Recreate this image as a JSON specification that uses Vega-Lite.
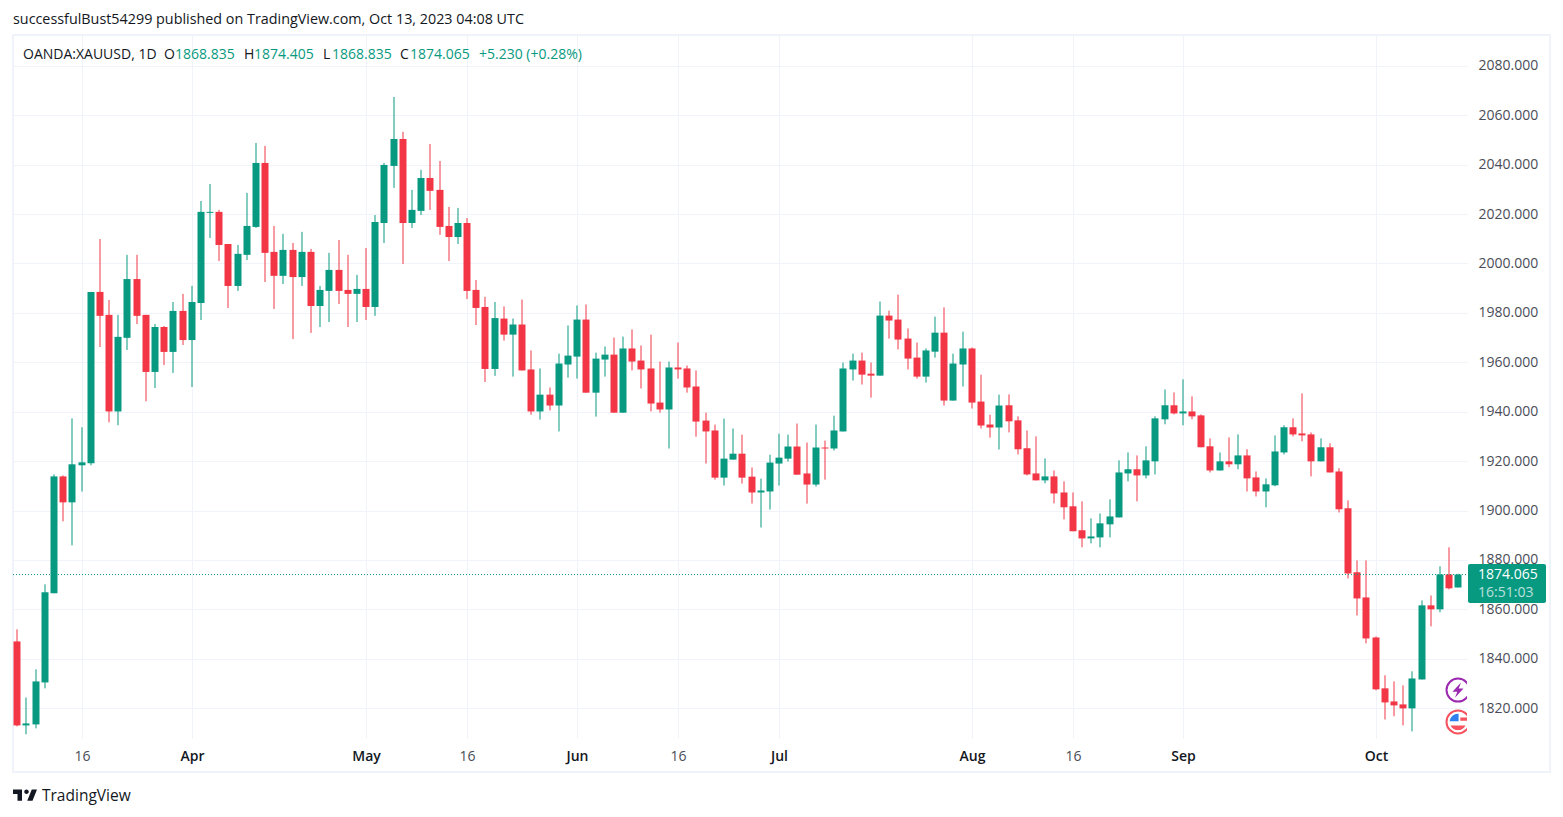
{
  "$schema": "https://vega.github.io/schema/vega-lite/v6.json",
  "autosize": "none",
  "padding": {"left": 13, "top": 35, "right": 96, "bottom": 79},
  "width": 1454,
  "height": 703,
  "background": "#ffffff",
  "title": {
    "text": "successfulBust54299 published on TradingView.com, Oct 13, 2023 04:08 UTC",
    "anchor": "start",
    "frame": "group",
    "offset": 7,
    "font": "Open Sans",
    "fontSize": 14.35,
    "fontWeight": "normal",
    "color": "#131722"
  },
  "config": {
    "view": {"stroke": null},
    "text": {"font": "Open Sans", "fontSize": 14},
    "axis": {"labelFont": "Open Sans", "labelFontSize": 14}
  },
  "datasets": {
    "candles": [
      {"date":"2023-03-07","session":0,"open":1847.0,"high":1851.9,"low":1812.6,"close":1813.0},
      {"date":"2023-03-08","session":1,"open":1813.0,"high":1824.3,"low":1809.4,"close":1813.8},
      {"date":"2023-03-09","session":2,"open":1813.4,"high":1835.7,"low":1811.8,"close":1830.8},
      {"date":"2023-03-10","session":3,"open":1830.4,"high":1870.1,"low":1828.0,"close":1866.9},
      {"date":"2023-03-13","session":4,"open":1866.5,"high":1914.6,"low":1866.5,"close":1913.8},
      {"date":"2023-03-14","session":5,"open":1913.8,"high":1914.2,"low":1895.6,"close":1903.3},
      {"date":"2023-03-15","session":6,"open":1903.3,"high":1937.3,"low":1885.9,"close":1918.7},
      {"date":"2023-03-16","session":7,"open":1918.3,"high":1933.7,"low":1907.7,"close":1919.5},
      {"date":"2023-03-17","session":8,"open":1919.1,"high":1988.5,"low":1918.3,"close":1988.5},
      {"date":"2023-03-20","session":9,"open":1988.5,"high":2009.9,"low":1966.2,"close":1978.8},
      {"date":"2023-03-21","session":10,"open":1979.2,"high":1985.2,"low":1935.7,"close":1940.1},
      {"date":"2023-03-22","session":11,"open":1940.1,"high":1979.2,"low":1934.5,"close":1970.3},
      {"date":"2023-03-23","session":12,"open":1969.9,"high":2003.5,"low":1965.0,"close":1993.7},
      {"date":"2023-03-24","session":13,"open":1993.7,"high":2003.5,"low":1975.5,"close":1978.8},
      {"date":"2023-03-27","session":14,"open":1979.2,"high":1979.2,"low":1944.2,"close":1956.1},
      {"date":"2023-03-28","session":15,"open":1956.1,"high":1975.5,"low":1949.6,"close":1974.3},
      {"date":"2023-03-29","session":16,"open":1974.3,"high":1974.7,"low":1958.9,"close":1964.2},
      {"date":"2023-03-30","session":17,"open":1964.2,"high":1984.4,"low":1955.7,"close":1980.8},
      {"date":"2023-03-31","session":18,"open":1980.8,"high":1987.7,"low":1967.0,"close":1969.0},
      {"date":"2023-04-03","session":19,"open":1969.0,"high":1990.9,"low":1950.0,"close":1984.4},
      {"date":"2023-04-04","session":20,"open":1984.0,"high":2025.3,"low":1977.1,"close":2020.9},
      {"date":"2023-04-05","session":21,"open":2020.5,"high":2032.2,"low":2010.3,"close":2020.9},
      {"date":"2023-04-06","session":22,"open":2020.9,"high":2021.7,"low":2001.0,"close":2007.5},
      {"date":"2023-04-10","session":23,"open":2007.9,"high":2007.9,"low":1982.0,"close":1990.9},
      {"date":"2023-04-11","session":24,"open":1990.9,"high":2007.5,"low":1988.9,"close":2003.9},
      {"date":"2023-04-12","session":25,"open":2003.5,"high":2028.6,"low":2001.4,"close":2015.2},
      {"date":"2023-04-13","session":26,"open":2014.8,"high":2048.8,"low":2014.4,"close":2040.7},
      {"date":"2023-04-14","session":27,"open":2040.7,"high":2047.6,"low":1992.5,"close":2004.3},
      {"date":"2023-04-17","session":28,"open":2004.7,"high":2015.2,"low":1981.6,"close":1995.0},
      {"date":"2023-04-18","session":29,"open":1995.0,"high":2012.0,"low":1991.7,"close":2005.5},
      {"date":"2023-04-19","session":30,"open":2005.5,"high":2008.3,"low":1969.4,"close":1994.5},
      {"date":"2023-04-20","session":31,"open":1994.5,"high":2012.8,"low":1990.9,"close":2004.7},
      {"date":"2023-04-21","session":32,"open":2004.7,"high":2005.9,"low":1971.9,"close":1982.8},
      {"date":"2023-04-24","session":33,"open":1982.8,"high":1990.9,"low":1974.3,"close":1989.3},
      {"date":"2023-04-25","session":34,"open":1988.9,"high":2004.3,"low":1976.3,"close":1997.4},
      {"date":"2023-04-26","session":35,"open":1997.4,"high":2009.5,"low":1983.6,"close":1988.9},
      {"date":"2023-04-27","session":36,"open":1989.3,"high":2003.5,"low":1974.3,"close":1987.7},
      {"date":"2023-04-28","session":37,"open":1987.7,"high":1995.4,"low":1976.3,"close":1989.7},
      {"date":"2023-05-01","session":38,"open":1989.7,"high":2006.3,"low":1977.1,"close":1982.4},
      {"date":"2023-05-02","session":39,"open":1982.4,"high":2019.6,"low":1978.8,"close":2016.8},
      {"date":"2023-05-03","session":40,"open":2016.4,"high":2040.7,"low":2008.3,"close":2039.9},
      {"date":"2023-05-04","session":41,"open":2039.5,"high":2067.4,"low":2030.6,"close":2050.4},
      {"date":"2023-05-05","session":42,"open":2050.4,"high":2053.3,"low":1999.8,"close":2016.4},
      {"date":"2023-05-08","session":43,"open":2016.4,"high":2029.8,"low":2014.4,"close":2021.7},
      {"date":"2023-05-09","session":44,"open":2021.3,"high":2037.9,"low":2019.6,"close":2034.6},
      {"date":"2023-05-10","session":45,"open":2034.6,"high":2048.4,"low":2021.7,"close":2029.4},
      {"date":"2023-05-11","session":46,"open":2029.8,"high":2041.5,"low":2011.6,"close":2014.8},
      {"date":"2023-05-12","session":47,"open":2015.2,"high":2022.9,"low":2001.0,"close":2010.7},
      {"date":"2023-05-15","session":48,"open":2010.7,"high":2022.5,"low":2007.9,"close":2016.4},
      {"date":"2023-05-16","session":49,"open":2016.4,"high":2018.4,"low":1985.6,"close":1988.9},
      {"date":"2023-05-17","session":50,"open":1989.3,"high":1993.3,"low":1975.1,"close":1982.0},
      {"date":"2023-05-18","session":51,"open":1982.4,"high":1986.5,"low":1952.0,"close":1957.3},
      {"date":"2023-05-19","session":52,"open":1957.3,"high":1984.4,"low":1954.5,"close":1977.9},
      {"date":"2023-05-22","session":53,"open":1977.7,"high":1982.6,"low":1968.8,"close":1971.2},
      {"date":"2023-05-23","session":54,"open":1971.2,"high":1977.7,"low":1954.2,"close":1975.3},
      {"date":"2023-05-24","session":55,"open":1975.3,"high":1985.4,"low":1956.7,"close":1956.7},
      {"date":"2023-05-25","session":56,"open":1957.1,"high":1964.8,"low":1938.8,"close":1940.1},
      {"date":"2023-05-26","session":57,"open":1940.1,"high":1957.5,"low":1936.8,"close":1946.9},
      {"date":"2023-05-29","session":58,"open":1946.9,"high":1949.8,"low":1940.5,"close":1942.5},
      {"date":"2023-05-30","session":59,"open":1942.5,"high":1963.5,"low":1932.0,"close":1959.5},
      {"date":"2023-05-31","session":60,"open":1959.1,"high":1974.9,"low":1953.8,"close":1962.7},
      {"date":"2023-06-01","session":61,"open":1962.3,"high":1983.0,"low":1953.4,"close":1977.3},
      {"date":"2023-06-02","session":62,"open":1977.3,"high":1983.4,"low":1947.7,"close":1947.7},
      {"date":"2023-06-05","session":63,"open":1947.7,"high":1963.9,"low":1938.0,"close":1961.5},
      {"date":"2023-06-06","session":64,"open":1961.1,"high":1966.4,"low":1954.2,"close":1963.1},
      {"date":"2023-06-07","session":65,"open":1963.1,"high":1970.0,"low":1939.6,"close":1939.6},
      {"date":"2023-06-08","session":66,"open":1939.6,"high":1970.4,"low":1939.6,"close":1965.6},
      {"date":"2023-06-09","session":67,"open":1965.6,"high":1973.3,"low":1956.7,"close":1960.3},
      {"date":"2023-06-12","session":68,"open":1960.7,"high":1966.8,"low":1949.4,"close":1957.1},
      {"date":"2023-06-13","session":69,"open":1957.5,"high":1971.2,"low":1940.1,"close":1943.3},
      {"date":"2023-06-14","session":70,"open":1943.7,"high":1960.3,"low":1939.6,"close":1940.9},
      {"date":"2023-06-15","session":71,"open":1940.9,"high":1960.3,"low":1925.1,"close":1957.9},
      {"date":"2023-06-16","session":72,"open":1957.9,"high":1968.0,"low":1953.4,"close":1957.1},
      {"date":"2023-06-19","session":73,"open":1957.5,"high":1958.7,"low":1947.7,"close":1949.8},
      {"date":"2023-06-20","session":74,"open":1950.2,"high":1956.7,"low":1929.9,"close":1936.0},
      {"date":"2023-06-21","session":75,"open":1936.4,"high":1939.6,"low":1919.0,"close":1932.0},
      {"date":"2023-06-22","session":76,"open":1932.4,"high":1934.8,"low":1912.5,"close":1913.3},
      {"date":"2023-06-23","session":77,"open":1913.3,"high":1937.2,"low":1910.1,"close":1921.0},
      {"date":"2023-06-26","session":78,"open":1920.6,"high":1933.2,"low":1920.6,"close":1923.0},
      {"date":"2023-06-27","session":79,"open":1923.0,"high":1930.7,"low":1910.9,"close":1913.3},
      {"date":"2023-06-28","session":80,"open":1913.7,"high":1917.4,"low":1902.8,"close":1907.3},
      {"date":"2023-06-29","session":81,"open":1907.3,"high":1912.9,"low":1893.1,"close":1908.1},
      {"date":"2023-06-30","session":82,"open":1907.7,"high":1922.6,"low":1900.4,"close":1919.4},
      {"date":"2023-07-03","session":83,"open":1919.0,"high":1931.1,"low":1910.1,"close":1921.4},
      {"date":"2023-07-04","session":84,"open":1921.0,"high":1930.7,"low":1919.8,"close":1925.9},
      {"date":"2023-07-05","session":85,"open":1925.9,"high":1935.2,"low":1914.5,"close":1914.5},
      {"date":"2023-07-06","session":86,"open":1915.0,"high":1927.5,"low":1902.8,"close":1910.5},
      {"date":"2023-07-07","session":87,"open":1910.5,"high":1934.8,"low":1909.7,"close":1925.5},
      {"date":"2023-07-10","session":88,"open":1925.5,"high":1928.3,"low":1912.5,"close":1925.1},
      {"date":"2023-07-11","session":89,"open":1925.1,"high":1938.4,"low":1924.3,"close":1932.4},
      {"date":"2023-07-12","session":90,"open":1932.0,"high":1959.9,"low":1932.0,"close":1957.5},
      {"date":"2023-07-13","session":91,"open":1957.1,"high":1963.5,"low":1952.6,"close":1960.7},
      {"date":"2023-07-14","session":92,"open":1960.7,"high":1963.9,"low":1951.0,"close":1955.0},
      {"date":"2023-07-17","session":93,"open":1955.4,"high":1959.9,"low":1945.7,"close":1954.6},
      {"date":"2023-07-18","session":94,"open":1954.6,"high":1984.6,"low":1954.6,"close":1978.9},
      {"date":"2023-07-19","session":95,"open":1978.9,"high":1980.9,"low":1969.6,"close":1976.9},
      {"date":"2023-07-20","session":96,"open":1977.3,"high":1987.4,"low":1965.2,"close":1969.2},
      {"date":"2023-07-21","session":97,"open":1969.6,"high":1973.7,"low":1957.1,"close":1961.5},
      {"date":"2023-07-24","session":98,"open":1961.9,"high":1968.0,"low":1953.4,"close":1954.2},
      {"date":"2023-07-25","session":99,"open":1954.2,"high":1965.6,"low":1951.8,"close":1964.8},
      {"date":"2023-07-26","session":100,"open":1964.3,"high":1978.5,"low":1961.9,"close":1972.0},
      {"date":"2023-07-27","session":101,"open":1972.0,"high":1982.2,"low":1942.5,"close":1944.5},
      {"date":"2023-07-28","session":102,"open":1944.5,"high":1963.5,"low":1944.5,"close":1959.5},
      {"date":"2023-07-31","session":103,"open":1959.1,"high":1972.4,"low":1950.2,"close":1965.6},
      {"date":"2023-08-01","session":104,"open":1965.6,"high":1966.0,"low":1941.3,"close":1943.7},
      {"date":"2023-08-02","session":105,"open":1944.1,"high":1955.0,"low":1933.2,"close":1934.4},
      {"date":"2023-08-03","session":106,"open":1934.8,"high":1938.8,"low":1929.5,"close":1933.6},
      {"date":"2023-08-04","session":107,"open":1933.6,"high":1946.9,"low":1924.7,"close":1942.5},
      {"date":"2023-08-07","session":108,"open":1942.6,"high":1947.0,"low":1931.6,"close":1936.1},
      {"date":"2023-08-08","session":109,"open":1936.5,"high":1938.1,"low":1922.7,"close":1924.8},
      {"date":"2023-08-09","session":110,"open":1925.2,"high":1932.4,"low":1914.2,"close":1914.6},
      {"date":"2023-08-10","session":111,"open":1915.0,"high":1930.0,"low":1912.2,"close":1912.2},
      {"date":"2023-08-11","session":112,"open":1912.2,"high":1921.1,"low":1911.0,"close":1913.8},
      {"date":"2023-08-14","session":113,"open":1913.8,"high":1916.2,"low":1902.9,"close":1906.9},
      {"date":"2023-08-15","session":114,"open":1907.3,"high":1911.8,"low":1896.4,"close":1901.3},
      {"date":"2023-08-16","session":115,"open":1901.7,"high":1907.3,"low":1891.6,"close":1891.6},
      {"date":"2023-08-17","session":116,"open":1892.0,"high":1903.7,"low":1885.1,"close":1888.7},
      {"date":"2023-08-18","session":117,"open":1888.7,"high":1896.8,"low":1886.7,"close":1889.5},
      {"date":"2023-08-21","session":118,"open":1889.1,"high":1898.8,"low":1885.1,"close":1894.8},
      {"date":"2023-08-22","session":119,"open":1894.4,"high":1904.5,"low":1889.1,"close":1897.6},
      {"date":"2023-08-23","session":120,"open":1897.2,"high":1920.3,"low":1897.2,"close":1915.4},
      {"date":"2023-08-24","session":121,"open":1915.0,"high":1923.5,"low":1911.8,"close":1916.7},
      {"date":"2023-08-25","session":122,"open":1916.7,"high":1922.3,"low":1903.7,"close":1914.2},
      {"date":"2023-08-28","session":123,"open":1914.2,"high":1926.0,"low":1913.0,"close":1920.3},
      {"date":"2023-08-29","session":124,"open":1919.9,"high":1938.1,"low":1914.6,"close":1937.3},
      {"date":"2023-08-30","session":125,"open":1936.9,"high":1949.0,"low":1934.9,"close":1942.6},
      {"date":"2023-08-31","session":126,"open":1942.6,"high":1947.8,"low":1938.9,"close":1939.3},
      {"date":"2023-09-01","session":127,"open":1939.3,"high":1953.1,"low":1934.5,"close":1940.1},
      {"date":"2023-09-04","session":128,"open":1940.1,"high":1946.2,"low":1936.9,"close":1938.1},
      {"date":"2023-09-05","session":129,"open":1938.5,"high":1938.9,"low":1925.6,"close":1925.6},
      {"date":"2023-09-06","session":130,"open":1926.0,"high":1929.2,"low":1915.4,"close":1916.2},
      {"date":"2023-09-07","session":131,"open":1916.2,"high":1923.5,"low":1916.2,"close":1919.9},
      {"date":"2023-09-08","session":132,"open":1919.9,"high":1929.6,"low":1917.5,"close":1918.7},
      {"date":"2023-09-11","session":133,"open":1918.7,"high":1930.8,"low":1916.7,"close":1922.3},
      {"date":"2023-09-12","session":134,"open":1922.3,"high":1924.8,"low":1907.7,"close":1913.0},
      {"date":"2023-09-13","session":135,"open":1913.4,"high":1915.8,"low":1905.7,"close":1907.7},
      {"date":"2023-09-14","session":136,"open":1907.7,"high":1913.0,"low":1901.3,"close":1910.6},
      {"date":"2023-09-15","session":137,"open":1910.2,"high":1930.4,"low":1909.8,"close":1923.9},
      {"date":"2023-09-18","session":138,"open":1923.5,"high":1934.5,"low":1922.7,"close":1933.7},
      {"date":"2023-09-19","session":139,"open":1933.7,"high":1937.3,"low":1930.0,"close":1930.8},
      {"date":"2023-09-20","session":140,"open":1931.2,"high":1947.4,"low":1928.0,"close":1930.4},
      {"date":"2023-09-21","session":141,"open":1930.8,"high":1931.6,"low":1913.8,"close":1919.9},
      {"date":"2023-09-22","session":142,"open":1919.9,"high":1929.2,"low":1919.9,"close":1925.6},
      {"date":"2023-09-25","session":143,"open":1925.6,"high":1927.2,"low":1915.4,"close":1915.4},
      {"date":"2023-09-26","session":144,"open":1915.8,"high":1917.1,"low":1899.2,"close":1900.5},
      {"date":"2023-09-27","session":145,"open":1900.9,"high":1904.1,"low":1872.5,"close":1874.5},
      {"date":"2023-09-28","session":146,"open":1875.0,"high":1879.8,"low":1857.5,"close":1864.4},
      {"date":"2023-09-29","session":147,"open":1864.8,"high":1879.8,"low":1846.2,"close":1848.2},
      {"date":"2023-10-02","session":148,"open":1848.6,"high":1849.0,"low":1827.2,"close":1827.6},
      {"date":"2023-10-03","session":149,"open":1828.0,"high":1833.3,"low":1815.4,"close":1822.3},
      {"date":"2023-10-04","session":150,"open":1822.7,"high":1830.8,"low":1816.7,"close":1821.1},
      {"date":"2023-10-05","session":151,"open":1821.5,"high":1829.2,"low":1813.0,"close":1819.9},
      {"date":"2023-10-06","session":152,"open":1819.9,"high":1834.9,"low":1810.6,"close":1832.0},
      {"date":"2023-10-09","session":153,"open":1831.6,"high":1863.6,"low":1831.6,"close":1861.6},
      {"date":"2023-10-10","session":154,"open":1861.6,"high":1865.6,"low":1853.1,"close":1860.0},
      {"date":"2023-10-11","session":155,"open":1860.0,"high":1877.4,"low":1858.8,"close":1874.1},
      {"date":"2023-10-12","session":156,"open":1874.1,"high":1885.1,"low":1868.1,"close":1868.5},
      {"date":"2023-10-13","session":157,"open":1868.835,"high":1874.405,"low":1868.835,"close":1874.065}
    ]
  },
  "encoding": {
    "x": {
      "field": "session",
      "type": "quantitative",
      "scale": {"domain": [-0.47, 157.95], "nice": false, "zero": false, "padding": 0, "round": true},
      "axis": {
        "title": null,
        "values": [7, 19, 38, 49, 61, 72, 83, 104, 115, 127, 148],
        "labelExpr": "{'7':'16','19':'Apr','38':'May','49':'16','61':'Jun','72':'16','83':'Jul','104':'Aug','115':'16','127':'Sep','148':'Oct'}[datum.value]",
        "labelFontWeight": {"condition": {"test": "indexof([7,49,72,115], datum.value) >= 0", "value": "normal"}, "value": 600},
        "labelColor": {"condition": {"test": "indexof([7,49,72,115], datum.value) >= 0", "value": "#4a4d57"}, "value": "#131722"},
        "labelPadding": 11,
        "labelOverlap": false,
        "labelFlush": false,
        "ticks": false,
        "domain": false,
        "grid": true,
        "gridColor": "#f0f3fa"
      }
    },
    "y": {
      "field": "price",
      "type": "quantitative",
      "scale": {"domain": [1807.9, 2092.5], "nice": false, "zero": false},
      "axis": {
        "title": null,
        "orient": "right",
        "values": [1820, 1840, 1860, 1880, 1900, 1920, 1940, 1960, 1980, 2000, 2020, 2040, 2060, 2080],
        "format": ".3f",
        "labelColor": "#4a4d57",
        "labelPadding": 11,
        "labelOverlap": false,
        "labelFlush": false,
        "ticks": false,
        "domain": false,
        "grid": true,
        "gridColor": "#f0f3fa"
      }
    }
  },
  "layer": [
    {
      "data": {"values": [{"session": -0.47, "session2": 167.0, "price": 2092.5, "price2": 1794.1}]},
      "mark": {"type": "rect", "filled": false, "stroke": "#f0f3fa", "strokeWidth": 2},
      "encoding": {"x2": {"field": "session2"}, "y2": {"field": "price2"}}
    },
    {
      "data": {"name": "candles"},
      "transform": [{"fold": ["low"], "as": ["kind", "price"]}],
      "mark": {"type": "rule", "strokeWidth": 1},
      "encoding": {
        "y2": {"field": "high"},
        "color": {"condition": {"test": "datum.close >= datum.open", "value": "#089981"}, "value": "#f23645"}
      }
    },
    {
      "data": {"name": "candles"},
      "transform": [{"fold": ["open"], "as": ["kind", "price"]}],
      "mark": {"type": "bar", "size": 7, "orient": "vertical"},
      "encoding": {
        "y2": {"field": "close"},
        "color": {"condition": {"test": "datum.close >= datum.open", "value": "#089981"}, "value": "#f23645"}
      }
    },
    {
      "data": {"values": [{"price": 1874.065, "session": -0.47, "session2": 157.95}]},
      "mark": {"type": "rule", "stroke": "#089981", "strokeWidth": 1, "strokeDash": [1, 2]},
      "encoding": {"x2": {"field": "session2"}}
    },
    {
      "data": {"values": [{"session": 157.0, "price": 1827.3}]},
      "mark": {"type": "point", "shape": "circle", "filled": false, "stroke": "#9c27b0", "strokeWidth": 2, "size": 529, "opacity": 1, "clip": true},
      "encoding": {}
    },
    {
      "data": {"values": [{"session": 157.0, "price": 1827.3}]},
      "mark": {"type": "point", "shape": "M0.22,-0.55L-0.4,0.12L-0.05,0.12L-0.22,0.55L0.4,-0.12L0.05,-0.12Z", "filled": true, "fill": "#9c27b0", "size": 760, "opacity": 1, "clip": true},
      "encoding": {}
    },
    {
      "data": {"values": [{"session": 157.0, "price": 1814.4}]},
      "mark": {"type": "point", "shape": "circle", "filled": false, "stroke": "#f7525f", "strokeWidth": 2, "size": 529, "opacity": 1, "clip": true},
      "encoding": {}
    },
    {
      "data": {"values": [{"session": 157.0, "price": 1814.4}]},
      "mark": {"type": "point", "shape": "M0.05,-0.05L0.05,-0.72A0.72,0.72 0 0 0 -0.72,-0.05Z", "filled": true, "fill": "#2f80ed", "size": 529, "opacity": 1, "clip": true},
      "encoding": {}
    },
    {
      "data": {"values": [{"session": 157.0, "price": 1814.4}]},
      "mark": {"type": "point", "shape": "M0.2,-0.38L0.8,-0.38L0.8,-0.1L0.2,-0.1ZM-0.65,0.3L0.65,0.3A0.72,0.72 0 0 1 -0.65,0.3Z", "filled": true, "fill": "#f7525f", "size": 529, "opacity": 1, "clip": true},
      "encoding": {}
    },
    {
      "data": {"values": [{"session": 158.06, "session2": 166.56, "price": 1878.3, "price2": 1862.6}]},
      "mark": {"type": "rect", "color": "#089981", "cornerRadius": 2},
      "encoding": {"x2": {"field": "session2"}, "y2": {"field": "price2"}}
    },
    {
      "data": {"values": [{"session": 159.2, "price": 1874.0, "label": "1874.065"}]},
      "mark": {"type": "text", "align": "left", "baseline": "middle", "color": "#ffffff", "fontWeight": 500},
      "encoding": {"text": {"field": "label"}}
    },
    {
      "data": {"values": [{"session": 159.2, "price": 1866.8, "label": "16:51:03"}]},
      "mark": {"type": "text", "align": "left", "baseline": "middle", "color": "#ffffff", "opacity": 0.7, "fontWeight": 500},
      "encoding": {"text": {"field": "label"}}
    },
    {
      "data": {"values": [
        {"session": 0.62, "price": 2084.4, "label": "OANDA:XAUUSD, 1D"},
        {"session": 15.98, "price": 2084.4, "label": "O"},
        {"session": 24.7, "price": 2084.4, "label": "H"},
        {"session": 33.31, "price": 2084.4, "label": "L"},
        {"session": 41.7, "price": 2084.4, "label": "C"}
      ]},
      "mark": {"type": "text", "align": "left", "baseline": "middle", "color": "#131722"},
      "encoding": {"text": {"field": "label"}}
    },
    {
      "data": {"values": [
        {"session": 17.18, "price": 2084.4, "label": "1868.835"},
        {"session": 25.79, "price": 2084.4, "label": "1874.405"},
        {"session": 34.29, "price": 2084.4, "label": "1868.835"},
        {"session": 42.79, "price": 2084.4, "label": "1874.065"},
        {"session": 50.3, "price": 2084.4, "label": "+5.230 (+0.28%)"}
      ]},
      "mark": {"type": "text", "align": "left", "baseline": "middle", "color": "#089981"},
      "encoding": {"text": {"field": "label"}}
    },
    {
      "data": {"values": [{"session": 0.87, "price": 1784.8}]},
      "mark": {"type": "point", "shape": "M-1,-0.47L-0.25,-0.47L-0.25,0.47L-0.625,0.47L-0.625,-0.094L-1,-0.094ZM0.625,0.47L0.1875,0.47L0.5625,-0.47L1,-0.47ZM-0.0625,-0.28A0.1875,0.1875 0 1 0 0.3125,-0.28A0.1875,0.1875 0 1 0 -0.0625,-0.28Z", "filled": true, "fill": "#131722", "size": 576, "opacity": 1},
      "encoding": {}
    },
    {
      "data": {"values": [{"session": 2.69, "price": 1784.4, "label": "TradingView"}]},
      "mark": {"type": "text", "align": "left", "baseline": "middle", "color": "#131722", "fontSize": 15.5},
      "encoding": {"text": {"field": "label"}}
    }
  ]
}
